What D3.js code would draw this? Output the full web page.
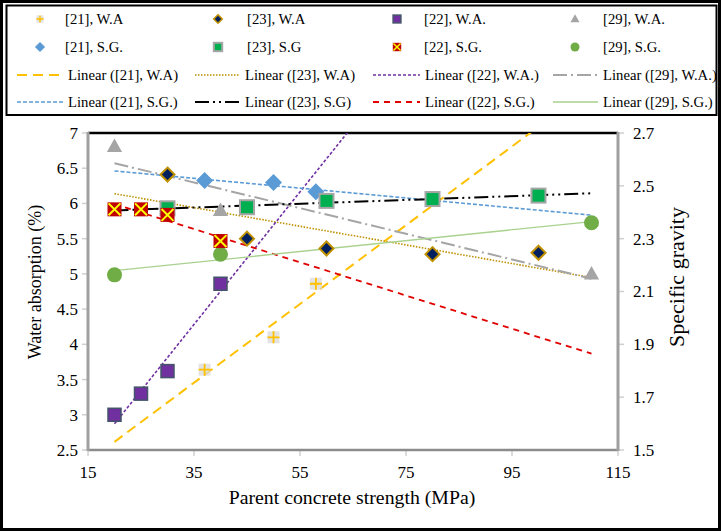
<!DOCTYPE html>
<html><head><meta charset="utf-8">
<script src="https://cdn.jsdelivr.net/npm/d3@7"></script>
<style>html,body{margin:0;padding:0;background:#fff;} svg{display:block;font-family:"Liberation Serif","Times New Roman",serif;}</style>
</head><body><svg id="c" width="721" height="532"></svg>
<script>
// ---- data ----
const wa21X = [37, 50, 58],            wa21Y = [3.64, 4.10, 4.86];
const wa23X = [30, 45, 60, 80, 100],   wa23Y = [6.41, 5.50, 5.36, 5.28, 5.30];
const wa22X = [20, 25, 30, 40],        wa22Y = [3.00, 3.30, 3.62, 4.86];
const wa29X = [20, 40, 110],           wa29Y = [6.81, 5.90, 5.00];
const sg21X = [37, 50, 58],            sg21Y = [2.520, 2.513, 2.478];
const sg23X = [30, 45, 60, 80, 100],   sg23Y = [2.415, 2.419, 2.443, 2.450, 2.463];
const sg22X = [20, 25, 30, 40],        sg22Y = [2.411, 2.411, 2.390, 2.291];
const sg29X = [20, 40, 110],           sg29Y = [2.163, 2.241, 2.360];
const trendRange = [20, 110];
const xTicks = [15, 35, 55, 75, 95, 115];
const yLeftTicks = [2.5, 3, 3.5, 4, 4.5, 5, 5.5, 6, 6.5, 7];
const yRightTicks = [1.5, 1.7, 1.9, 2.1, 2.3, 2.5, 2.7];
const legendLabels = ["[21], W.A", "[23], W.A", "[22], W.A.", "[29], W.A.",
  "[21], S.G.", "[23], S.G", "[22], S.G.", "[29], S.G.",
  "Linear ([21], W.A)", "Linear ([23], W.A)", "Linear ([22], W.A.)", "Linear ([29], W.A.)",
  "Linear ([21], S.G.)", "Linear ([23], S.G)", "Linear ([22], S.G.)", "Linear ([29], S.G.)"];
const xTitle = "Parent concrete strength (MPa)";
const yLeftTitle = "Water absorption (%)";
const yRightTitle = "Specific gravity";

// ---- layout ----
const svg = d3.select("#c");
const L = 88, R = 618, T = 133, B = 450;
const x = d3.scaleLinear().domain([15, 115]).range([L, R]);
const yL = d3.scaleLinear().domain([2.5, 7]).range([B, T]);
const yR = d3.scaleLinear().domain([1.5, 2.7]).range([B, T]);

// frames
svg.append("rect").attr("x", 1.5).attr("y", 1.5).attr("width", 718).attr("height", 528)
  .attr("fill", "none").attr("stroke", "#000").attr("stroke-width", 3);
svg.append("rect").attr("x", 6.5).attr("y", 5.5).attr("width", 710).attr("height", 109.5)
  .attr("fill", "none").attr("stroke", "#000").attr("stroke-width", 2);

// axes ticks
const tickCol = "#d0d0d0";
const g = svg.append("g");
g.selectAll(".tl").data(yLeftTicks).join("line")
  .attr("x1", L - 6).attr("x2", L).attr("y1", d => yL(d)).attr("y2", d => yL(d))
  .attr("stroke", tickCol).attr("stroke-width", 1.5);
g.selectAll(".tr").data(yRightTicks).join("line")
  .attr("x1", R).attr("x2", R + 6).attr("y1", d => yR(d)).attr("y2", d => yR(d))
  .attr("stroke", tickCol).attr("stroke-width", 1.5);
g.selectAll(".tb").data(xTicks).join("line")
  .attr("x1", d => x(d)).attr("x2", d => x(d)).attr("y1", B).attr("y2", B + 6)
  .attr("stroke", tickCol).attr("stroke-width", 1.5);

// tick labels
g.selectAll(".ll").data(yLeftTicks).join("text")
  .attr("x", L - 10).attr("y", d => yL(d)).attr("dy", "0.35em").attr("text-anchor", "end")
  .attr("font-size", 17).text(d => d);
g.selectAll(".rl").data(yRightTicks).join("text")
  .attr("x", R + 15).attr("y", d => yR(d)).attr("dy", "0.35em").attr("text-anchor", "start")
  .attr("font-size", 17).text(d => d3.format(".1f")(d));
g.selectAll(".bl").data(xTicks).join("text")
  .attr("x", d => x(d)).attr("y", B + 22).attr("dy", "0.35em").attr("text-anchor", "middle")
  .attr("font-size", 17).text(d => d);

// titles
svg.append("text").attr("x", 352).attr("y", 497).attr("dy", "0.35em").attr("text-anchor", "middle")
  .attr("font-size", 19.8).text(xTitle);
svg.append("text").attr("transform", "translate(35,282) rotate(-90)").attr("dy", "0.35em")
  .attr("text-anchor", "middle").attr("font-size", 18).text(yLeftTitle);
svg.append("text").attr("transform", "translate(676,277) rotate(-90)").attr("dy", "0.35em")
  .attr("text-anchor", "middle").attr("font-size", 22).text(yRightTitle);

// axis lines
svg.append("line").attr("x1", L).attr("x2", R).attr("y1", T).attr("y2", T).attr("stroke", "#000").attr("stroke-width", 2.5);
svg.append("line").attr("x1", L).attr("x2", R).attr("y1", B).attr("y2", B).attr("stroke", "#8c8c8c").attr("stroke-width", 2.5);
svg.append("line").attr("x1", L).attr("x2", L).attr("y1", T - 1).attr("y2", B + 1).attr("stroke", "#a0a0a0").attr("stroke-width", 3);
svg.append("line").attr("x1", R).attr("x2", R).attr("y1", T - 1).attr("y2", B + 1).attr("stroke", "#a0a0a0").attr("stroke-width", 3);

// clip
svg.append("clipPath").attr("id", "pc").append("rect").attr("x", L).attr("y", T).attr("width", R - L).attr("height", B - T);

// ---- styles ----
const lineStyles = {
  wa21: {c: "#FFC000", w: 2, d: "10,6"},
  wa23: {c: "#BF9000", w: 1.6, d: "1.5,1.5"},
  wa22: {c: "#7030A0", w: 1.6, d: "3,2"},
  wa29: {c: "#A5A5A5", w: 2, d: "14,4,2,4"},
  sg21: {c: "#5B9BD5", w: 1.6, d: "4,2"},
  sg23: {c: "#000000", w: 2, d: "14,4,2,4,2,4"},
  sg22: {c: "#E00000", w: 1.8, d: "6,5"},
  sg29: {c: "#A9D18E", w: 1.3, d: null}
};

function fit(xs, ys) {
  const mx = d3.mean(xs), my = d3.mean(ys);
  let sxy = 0, sxx = 0;
  xs.forEach((v, i) => { sxy += (v - mx) * (ys[i] - my); sxx += (v - mx) * (v - mx); });
  const b = sxy / sxx, a = my - b * mx;
  return v => a + b * v;
}

const series = [
  {k: "wa21", xs: wa21X, ys: wa21Y, y: yL, m: "plus"},
  {k: "wa23", xs: wa23X, ys: wa23Y, y: yL, m: "diamond23"},
  {k: "wa22", xs: wa22X, ys: wa22Y, y: yL, m: "square22"},
  {k: "wa29", xs: wa29X, ys: wa29Y, y: yL, m: "triangle"},
  {k: "sg21", xs: sg21X, ys: sg21Y, y: yR, m: "diamond21"},
  {k: "sg23", xs: sg23X, ys: sg23Y, y: yR, m: "square23"},
  {k: "sg22", xs: sg22X, ys: sg22Y, y: yR, m: "squareX"},
  {k: "sg29", xs: sg29X, ys: sg29Y, y: yR, m: "circle"}
];

function drawMarker(sel, type, s) {
  if (type === "plus") {
    sel.append("rect").attr("x", -6 * s).attr("y", -6 * s).attr("width", 12 * s).attr("height", 12 * s).attr("fill", "#d9d9d9").attr("opacity", 0.75);
    sel.append("path").attr("d", `M${-6*s},0H${6*s}M0,${-6*s}V${6*s}`).attr("stroke", "#FFC000").attr("stroke-width", 1.8 * Math.max(s, 0.8));
  } else if (type === "diamond23") {
    const r = 7 * s;
    sel.append("path").attr("d", `M0,${-r}L${r},0L0,${r}L${-r},0Z`).attr("fill", "#002060").attr("stroke", "#BF9000").attr("stroke-width", 2 * Math.max(s, 0.8));
  } else if (type === "square22") {
    const r = 6.5 * s;
    sel.append("rect").attr("x", -r).attr("y", -r).attr("width", 2 * r).attr("height", 2 * r).attr("fill", "#7030A0").attr("stroke", "#44546A").attr("stroke-width", 1.5);
  } else if (type === "triangle") {
    const r = 8 * s;
    sel.append("path").attr("d", `M0,${-r}L${r*0.95},${r*0.7}L${-r*0.95},${r*0.7}Z`).attr("fill", "#A5A5A5");
  } else if (type === "diamond21") {
    const r = 8.5 * s;
    sel.append("path").attr("d", `M0,${-r}L${r},0L0,${r}L${-r},0Z`).attr("fill", "#5B9BD5");
  } else if (type === "square23") {
    const r = 7 * s;
    sel.append("rect").attr("x", -r).attr("y", -r).attr("width", 2 * r).attr("height", 2 * r).attr("fill", "#00B050").attr("stroke", "#A5A5A5").attr("stroke-width", 2);
  } else if (type === "squareX") {
    const r = 7 * s;
    sel.append("rect").attr("x", -r).attr("y", -r).attr("width", 2 * r).attr("height", 2 * r).attr("fill", "#C00000");
    const q = r * 0.85;
    sel.append("path").attr("d", `M${-q},${-q}L${q},${q}M${q},${-q}L${-q},${q}`).attr("stroke", "#FFFF00").attr("stroke-width", 2 * Math.max(s, 0.7));
  } else if (type === "circle") {
    sel.append("circle").attr("r", 7.5 * s).attr("fill", "#70AD47");
  }
}

// trend lines
const tl = svg.append("g").attr("clip-path", "url(#pc)");
series.forEach(sr => {
  const f = fit(sr.xs, sr.ys);
  const st = lineStyles[sr.k];
  const pts = trendRange.map(v => [x(v), sr.y(f(v))]);
  tl.append("path").attr("d", d3.line()(pts)).attr("fill", "none")
    .attr("stroke", st.c).attr("stroke-width", st.w).attr("stroke-dasharray", st.d);
});

// markers
const order = ["sg29", "wa21", "sg21", "wa29", "sg23", "sg22", "wa23", "wa22"];
order.forEach(k => {
  const sr = series.find(s => s.k === k);
  sr.xs.forEach((v, i) => {
    const gg = svg.append("g").attr("transform", `translate(${x(v)},${sr.y(sr.ys[i])})`);
    drawMarker(gg, sr.m, 1);
  });
});

// legend
const colX = [40, 218, 397, 575];
const txtX = [65, 247, 424, 603];
const lineX = [[17, 63], [195, 240], [373, 420], [553, 598]];
const rowY = [19, 47, 75, 102];
const legendMarkers = ["plus", "diamond23", "square22", "triangle", "diamond21", "square23", "squareX", "circle"];
const legendLines = ["wa21", "wa23", "wa22", "wa29", "sg21", "sg23", "sg22", "sg29"];
const lg = svg.append("g");
legendLabels.forEach((lab, i) => {
  const row = Math.floor(i / 4), col = i % 4;
  const yy = rowY[row];
  if (row < 2) {
    const mg = lg.append("g").attr("transform", `translate(${colX[col]},${yy})`);
    drawMarker(mg, legendMarkers[i], 0.6);
    lg.append("text").attr("x", txtX[col]).attr("y", yy).attr("dy", "0.35em").attr("font-size", 14.7).text(lab);
  } else {
    const st = lineStyles[legendLines[i - 8]];
    lg.append("line").attr("x1", lineX[col][0]).attr("x2", lineX[col][1]).attr("y1", yy).attr("y2", yy)
      .attr("stroke", st.c).attr("stroke-width", st.w).attr("stroke-dasharray", st.d);
    lg.append("text").attr("x", lineX[col][1] + 5).attr("y", yy).attr("dy", "0.35em").attr("font-size", 14.7).text(lab);
  }
});
</script></body></html>
